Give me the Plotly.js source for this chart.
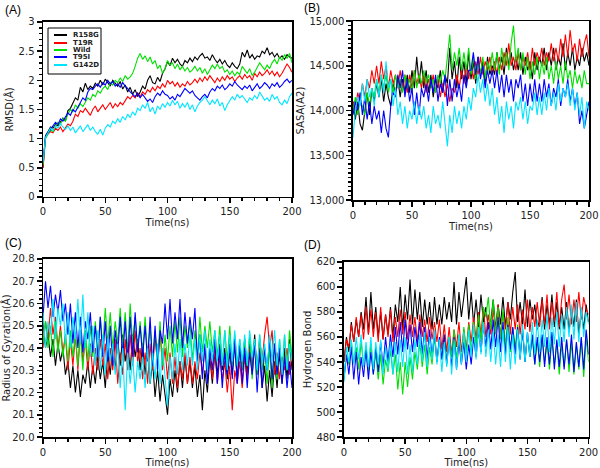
<!DOCTYPE html>
<html><head><meta charset="utf-8">
<script src="https://cdn.plot.ly/plotly-3.0.1.min.js"></script>
<style>html,body{margin:0;padding:0;background:#fff}#plot{width:600px;height:468px}</style>
</head><body><div id="plot"></div>
<script>
const time = [0,2,4,6,8,10,12,14,16,18,20,22,24,26,28,30,32,34,36,38,40,42,44,46,48,50,52,54,56,58,60,62,64,66,68,70,72,74,76,78,80,82,84,86,88,90,92,94,96,98,100,102,104,106,108,110,112,114,116,118,120,122,124,126,128,130,132,134,136,138,140,142,144,146,148,150,152,154,156,158,160,162,164,166,168,170,172,174,176,178,180,182,184,186,188,190,192,194,196,198,200];
const seriesNames = ["R158G","T19R","Wild","T95I","G142D"];
const seriesColors = ["#000000","#ff0000","#00e000","#0000ff","#00e5ff"];

// Panel A: RMSD (Å)
const rmsdR158G = [0.50,1.05,1.12,1.20,1.18,1.24,1.22,1.28,1.35,1.30,
1.48,1.52,1.62,1.70,1.66,1.88,1.80,1.95,1.84,1.90,
1.86,1.95,1.90,2.00,1.92,2.02,1.96,1.90,2.00,1.94,
1.90,1.98,1.85,1.92,1.80,1.88,1.76,1.84,1.72,1.80,
1.90,1.85,2.00,2.08,1.96,1.94,2.05,1.98,2.12,2.20,
2.32,2.25,2.38,2.30,2.36,2.28,2.24,2.34,2.30,2.38,
2.32,2.40,2.35,2.42,2.46,2.38,2.40,2.34,2.44,2.36,
2.30,2.36,2.28,2.34,2.26,2.22,2.30,2.24,2.20,2.28,
2.48,2.40,2.52,2.38,2.44,2.36,2.42,2.40,2.50,2.46,
2.56,2.44,2.48,2.40,2.46,2.38,2.42,2.36,2.44,2.40,2.38];
const rmsdT19R = [0.50,1.02,1.08,1.12,1.10,1.18,1.14,1.20,1.12,1.18,
1.25,1.22,1.30,1.42,1.38,1.48,1.45,1.52,1.46,1.40,
1.50,1.56,1.46,1.52,1.58,1.50,1.56,1.62,1.52,1.60,
1.55,1.62,1.58,1.66,1.72,1.68,1.74,1.70,1.78,1.72,
1.80,1.76,1.84,1.80,1.88,1.82,1.90,1.86,1.94,1.88,
2.00,1.94,1.98,1.90,1.96,1.88,1.94,1.90,1.98,1.92,
1.96,2.02,1.96,2.04,1.98,2.06,2.00,2.08,2.02,1.96,
2.04,1.98,2.06,2.00,2.08,2.02,2.06,1.98,2.04,2.08,
2.02,2.10,2.04,2.08,2.00,2.12,2.06,2.14,2.08,2.12,
2.18,2.10,2.16,2.08,2.14,2.06,2.12,2.20,2.28,2.22,2.14];
const rmsdWild = [0.55,1.00,1.08,1.15,1.12,1.22,1.28,1.24,1.35,1.30,
1.42,1.50,1.46,1.58,1.52,1.60,1.55,1.64,1.70,1.66,
1.76,1.72,1.82,1.78,1.86,1.90,1.84,1.96,1.92,2.00,
1.96,2.04,1.98,2.08,2.02,2.06,2.12,2.24,2.38,2.46,
2.36,2.42,2.32,2.40,2.28,2.34,2.20,2.26,2.12,2.20,
2.34,2.26,2.30,2.20,2.28,2.18,2.24,2.16,2.22,2.14,
2.18,2.24,2.16,2.22,2.12,2.20,2.10,2.18,2.26,2.20,
2.28,2.20,2.24,2.14,2.18,2.10,2.16,2.08,2.14,2.10,
2.24,2.18,2.12,2.20,2.08,2.14,2.22,2.30,2.24,2.18,
2.26,2.20,2.30,2.36,2.28,2.40,2.34,2.44,2.38,2.46,2.30];
const rmsdT95I = [0.60,1.04,1.10,1.16,1.22,1.28,1.24,1.34,1.30,1.38,
1.44,1.40,1.50,1.46,1.54,1.62,1.70,1.66,1.80,1.86,
1.84,1.90,1.94,1.88,1.96,1.92,2.00,1.94,1.98,1.90,
1.94,1.88,1.96,1.90,1.86,1.80,1.76,1.72,1.78,1.70,
1.76,1.70,1.64,1.68,1.62,1.72,1.78,1.74,1.82,1.76,
1.74,1.68,1.72,1.66,1.76,1.72,1.80,1.86,1.82,1.78,
1.82,1.74,1.70,1.66,1.72,1.76,1.70,1.80,1.86,1.82,
1.90,1.86,1.92,1.84,1.88,1.94,1.90,1.98,1.92,1.88,
1.84,1.90,1.86,1.92,1.82,1.88,1.94,1.86,1.90,1.96,
1.92,1.86,1.94,1.90,1.96,1.88,1.92,1.98,2.02,1.96,2.00];
const rmsdG142D = [0.60,1.02,1.10,1.18,1.14,1.22,1.18,1.26,1.20,1.16,
1.22,1.14,1.20,1.10,1.16,1.22,1.12,1.18,1.24,1.14,
1.20,1.12,1.08,1.16,1.06,1.18,1.24,1.20,1.30,1.26,
1.34,1.28,1.38,1.32,1.42,1.36,1.46,1.40,1.52,1.48,
1.58,1.52,1.62,1.46,1.54,1.42,1.56,1.50,1.60,1.54,
1.62,1.56,1.66,1.58,1.64,1.52,1.60,1.54,1.62,1.50,
1.58,1.46,1.56,1.62,1.66,1.72,1.64,1.58,1.66,1.60,
1.68,1.56,1.62,1.48,1.58,1.64,1.72,1.66,1.76,1.70,
1.74,1.68,1.62,1.70,1.66,1.74,1.68,1.80,1.72,1.66,
1.70,1.64,1.76,1.68,1.72,1.62,1.58,1.66,1.60,1.72,1.78];

// Panel B: SASA (A2)
const sasaR158G = [14100,13900,14100,13850,13780,14000,14200,13950,14250,14100,
14300,14150,14350,14100,14300,14150,14050,14300,14200,14350,
14150,14350,14200,14400,14200,14450,14250,14600,14300,14550,
14250,14450,14200,14400,14150,14350,14250,14450,14200,14400,
14300,14700,14350,14550,14250,14600,14350,14550,14300,14650,
14350,14550,14300,14600,14400,14550,14300,14600,14400,14500,
14400,14650,14450,14600,14400,14700,14500,14650,14450,14600,
14450,14650,14400,14600,14450,14550,14350,14650,14450,14600,
14500,14700,14450,14650,14500,14700,14450,14600,14500,14750,
14450,14650,14500,14700,14450,14600,14500,14700,14550,14650,14500];
const sasaT19R = [14100,14000,14200,14100,14300,14150,14350,14250,14450,14300,
14500,14300,14550,14350,14500,14250,14450,14300,14400,14250,
14450,14250,14400,14200,14400,14250,14450,14300,14400,14250,
14400,14200,14350,14250,14400,14200,14350,14150,14300,14150,
14300,14100,14250,14200,14400,14250,14450,14300,14500,14350,
14500,14350,14550,14400,14600,14400,14550,14450,14600,14400,
14550,14400,14600,14450,14650,14500,14750,14500,14600,14450,
14650,14450,14600,14500,14650,14450,14700,14500,14650,14550,
14700,14500,14650,14550,14750,14550,14700,14550,14800,14600,
14850,14600,14900,14650,14750,14550,14800,14600,14750,14850,14600];
const sasaWild = [14000,14150,13950,14100,14050,13950,14200,14050,14250,14150,
14350,14200,14400,14250,14400,14200,14350,14200,14400,14250,
14350,14200,14400,14250,14350,14200,14450,14250,14400,14300,
14450,14300,14400,14250,14350,14200,14400,14300,14450,14350,
14600,14850,14450,14650,14500,14700,14450,14650,14450,14700,
14400,14600,14350,14550,14400,14600,14350,14550,14450,14650,
14450,14650,14400,14700,14500,14650,14450,14750,14950,14550,
14700,14450,14650,14400,14600,14350,14550,14400,14600,14350,
14550,14400,14600,14350,14500,14300,14550,14350,14500,14300,
14550,14350,14450,14250,14450,14300,14400,14250,14450,14300,14300];
const sasaT95I = [13950,14100,14000,14200,13950,14150,13900,14100,13850,14050,
13900,14000,13750,14000,13800,13700,14050,14200,14150,14400,
14250,14450,14150,14350,14100,14250,13950,14200,13950,14250,
14150,14300,14100,14350,14200,14400,14100,14300,14200,14400,
14050,14350,14100,14350,14150,14300,14100,14400,14250,14450,
14450,14650,14400,14600,14350,14500,14250,14450,14300,14450,
14250,14450,14200,14400,14150,14400,14200,14350,14100,14350,
14250,14400,14100,14300,14050,14300,14100,14350,14100,14300,
14100,14350,14150,14300,14050,14250,14150,14350,14050,14250,
14150,14350,14100,14250,14050,14200,13850,14000,13800,13950,14100];
const sasaG142D = [13700,14000,14150,14050,14300,14100,14350,14150,14250,14050,
14350,14150,14400,14200,14550,14250,14350,14050,14250,13950,
14100,13850,14050,13800,14000,13900,14100,13850,14050,13900,
14050,13800,13950,13750,14050,13850,13950,13800,14100,13850,
13600,13950,13750,14050,13850,14000,13800,14050,13900,14150,
14000,14250,14150,14400,14200,14350,14100,14300,14050,14250,
13950,14150,13850,14050,13750,14100,13900,14050,13800,14100,
14000,14150,13900,14100,13850,14050,14000,14200,13950,14150,
13950,14200,14000,14250,14050,14200,14000,14300,14100,14250,
14150,14300,14050,14250,14000,14200,13950,14150,13800,14100,14000];

// Panel C: Radius of gyration (Å)
const rgR158G = [20.52,20.40,20.46,20.36,20.44,20.32,20.42,20.34,20.40,20.28,
20.34,20.22,20.32,20.20,20.30,20.18,20.28,20.24,20.34,20.22,
20.32,20.24,20.36,20.26,20.34,20.22,20.38,20.28,20.42,20.30,
20.44,20.32,20.46,20.34,20.42,20.30,20.46,20.36,20.44,20.30,
20.42,20.28,20.40,20.24,20.34,20.18,20.30,20.16,20.28,20.20,
20.10,20.26,20.18,20.30,20.20,20.34,20.22,20.36,20.24,20.34,
20.22,20.32,20.18,20.28,20.12,20.30,20.20,20.36,20.24,20.38,
20.28,20.42,20.30,20.40,20.26,20.38,20.28,20.42,20.26,20.40,
20.30,20.44,20.28,20.42,20.30,20.46,20.28,20.40,20.22,20.32,
20.16,20.30,20.18,20.34,20.22,20.38,20.24,20.40,20.26,20.44,20.30];
const rgT19R = [20.40,20.52,20.44,20.58,20.46,20.54,20.40,20.50,20.38,20.46,
20.30,20.44,20.32,20.46,20.30,20.48,20.34,20.44,20.30,20.42,
20.28,20.40,20.30,20.44,20.32,20.42,20.26,20.40,20.30,20.44,
20.24,20.38,20.28,20.44,20.30,20.46,20.32,20.48,20.34,20.40,
20.26,20.38,20.24,20.42,20.30,20.46,20.32,20.48,20.30,20.40,
20.26,20.38,20.24,20.36,20.22,20.34,20.26,20.38,20.24,20.36,
20.24,20.34,20.26,20.38,20.28,20.40,20.30,20.38,20.26,20.40,
20.24,20.36,20.26,20.34,20.20,20.32,20.12,20.30,20.24,20.34,
20.22,20.36,20.26,20.40,20.28,20.42,20.30,20.44,20.34,20.46,
20.54,20.40,20.48,20.28,20.38,20.26,20.36,20.30,20.40,20.28,20.38];
const rgWild = [20.42,20.52,20.40,20.50,20.36,20.52,20.38,20.48,20.36,20.46,
20.34,20.48,20.36,20.46,20.32,20.46,20.30,20.48,20.34,20.50,
20.36,20.52,20.38,20.54,20.40,20.58,20.42,20.56,20.40,20.52,
20.42,20.58,20.40,20.56,20.38,20.60,20.42,20.54,20.40,20.52,
20.38,20.54,20.36,20.50,20.32,20.48,20.34,20.52,20.32,20.46,
20.34,20.50,20.36,20.52,20.38,20.54,20.36,20.50,20.40,20.52,
20.34,20.48,20.36,20.54,20.38,20.50,20.40,20.52,20.38,20.48,
20.36,20.50,20.32,20.48,20.34,20.50,20.32,20.46,20.32,20.44,
20.30,20.44,20.32,20.46,20.26,20.44,20.28,20.46,20.30,20.40,
20.24,20.40,20.22,20.42,20.26,20.44,20.28,20.46,20.30,20.48,20.36];
const rgT95I = [20.54,20.70,20.58,20.68,20.54,20.64,20.56,20.66,20.52,20.60,
20.46,20.60,20.42,20.56,20.40,20.54,20.38,20.52,20.44,20.56,
20.38,20.50,20.36,20.54,20.36,20.52,20.34,20.50,20.32,20.48,
20.38,20.54,20.36,20.52,20.34,20.54,20.36,20.56,20.38,20.50,
20.36,20.50,20.34,20.54,20.32,20.50,20.30,20.48,20.42,20.60,
20.44,20.62,20.42,20.56,20.44,20.62,20.40,20.56,20.42,20.54,
20.44,20.58,20.34,20.46,20.26,20.42,20.24,20.40,20.30,20.44,
20.24,20.40,20.22,20.38,20.28,20.42,20.26,20.44,20.24,20.42,
20.24,20.40,20.22,20.38,20.28,20.42,20.20,20.38,20.22,20.40,
20.30,20.44,20.26,20.42,20.28,20.40,20.24,20.36,20.22,20.34,20.22];
const rgG142D = [20.56,20.40,20.52,20.46,20.62,20.44,20.58,20.50,20.60,20.42,
20.56,20.40,20.54,20.44,20.62,20.42,20.64,20.40,20.56,20.36,
20.50,20.32,20.48,20.30,20.46,20.28,20.44,20.34,20.42,20.28,
20.42,20.22,20.40,20.12,20.38,20.24,20.36,20.20,20.34,20.26,
20.36,20.22,20.40,20.24,20.38,20.26,20.42,20.24,20.40,20.28,
20.14,20.36,20.26,20.42,20.28,20.44,20.30,20.42,20.32,20.46,
20.32,20.44,20.30,20.46,20.34,20.48,20.30,20.44,20.34,20.48,
20.34,20.46,20.32,20.48,20.30,20.46,20.34,20.48,20.32,20.44,
20.34,20.46,20.32,20.48,20.36,20.44,20.30,20.46,20.34,20.42,
20.30,20.46,20.34,20.48,20.32,20.44,20.28,20.46,20.30,20.42,20.34];

// Panel D: Hydrogen bonds
const hbR158G = [540,560,548,572,556,574,560,580,566,592,
562,596,566,584,560,580,558,578,562,584,
560,586,572,600,566,594,574,606,570,598,
574,596,568,590,570,588,566,592,570,586,
570,592,574,588,572,604,570,596,576,592,
608,574,596,570,590,568,594,572,584,566,
572,590,566,586,570,592,568,588,574,596,
612,572,588,570,598,568,590,574,586,566,
574,592,566,586,570,594,568,588,566,584,
566,588,564,584,568,590,562,582,566,586,572];
const hbT19R = [540,558,552,570,556,576,560,578,558,584,
562,582,560,580,556,584,558,578,560,582,
556,576,560,582,562,580,558,578,560,576,
556,578,560,574,556,576,558,572,556,574,
550,570,548,568,546,566,552,572,548,566,
550,572,556,576,558,580,562,584,560,578,
562,582,564,586,560,580,566,588,562,584,
566,586,562,582,566,590,564,584,568,588,
568,590,570,594,566,588,572,596,568,590,
602,574,594,570,590,572,596,574,592,582,578];
const hbWild = [528,546,538,556,540,552,534,556,538,552,
532,554,530,548,526,546,522,542,532,550,
530,546,518,540,514,540,520,544,526,548,
534,556,536,554,530,552,538,560,540,558,
542,562,540,560,544,566,542,562,540,568,
546,570,548,572,552,578,556,584,576,592,
566,590,562,584,558,582,552,576,548,568,
552,570,544,566,540,562,544,560,538,558,
536,560,540,556,534,558,538,556,530,554,
536,558,532,556,530,554,534,558,528,560,540];
const hbT95I = [526,546,530,552,526,548,522,544,528,550,
526,548,530,552,532,556,536,560,540,562,
544,568,546,572,548,574,550,570,548,568,
552,572,546,568,542,566,544,564,540,560,
542,562,538,558,536,560,534,556,538,556,
534,554,538,560,544,566,548,570,552,572,
550,574,552,576,548,572,546,570,550,568,
546,568,542,566,540,564,544,562,538,560,
540,562,536,560,538,564,534,558,536,560,
534,558,538,562,532,556,536,560,534,566,546];
const hbG142D = [524,552,540,558,538,560,542,562,536,556,
536,560,534,556,538,558,530,552,534,556,
530,556,532,558,536,560,530,554,532,558,
538,562,540,564,536,560,542,566,538,558,
532,556,536,560,530,558,534,562,538,564,
540,566,544,570,542,568,546,572,544,566,
540,564,538,562,536,566,540,568,534,562,
538,566,542,570,540,564,544,572,546,574,
548,574,552,578,548,576,554,580,552,578,
556,584,560,586,558,588,556,584,560,580,570];

const panels = [
  {ax:"",  data:[rmsdR158G,rmsdT19R,rmsdWild,rmsdT95I,rmsdG142D]},
  {ax:"2", data:[sasaR158G,sasaT19R,sasaWild,sasaT95I,sasaG142D]},
  {ax:"3", data:[rgR158G,rgT19R,rgWild,rgT95I,rgG142D]},
  {ax:"4", data:[hbR158G,hbT19R,hbWild,hbT95I,hbG142D]}
];
const traces = [];
panels.forEach(p => {
  p.data.forEach((ys, i) => {
    traces.push({
      x: time, y: ys, type: "scatter", mode: "lines",
      name: seriesNames[i], showlegend: false,
      line: {color: seriesColors[i], width: 1.1},
      xaxis: "x" + p.ax, yaxis: "y" + p.ax
    });
  });
});

const F = "DejaVu Sans, Verdana, sans-serif";
function xAx(dom, anchor) {
  return {domain: dom, anchor: anchor, range: [0, 200], dtick: 50, tick0: 0,
    ticks: "outside", ticklen: 5, tickwidth: 1.5, tickcolor: "#000",
    minor: {dtick: 10, ticks: "outside", ticklen: 3, tickcolor: "#000", tickwidth: 1.5},
    showline: true, linecolor: "#000", linewidth: 1.5, mirror: true,
    showgrid: false, zeroline: false, ticklabeloverflow: "allow",
    tickfont: {family: F, size: 10, color: "#222"},
    title: {text: "Time(ns)", font: {family: F, size: 10, color: "#222"}, standoff: 2}};
}
function yAx(dom, anchor, range, dtick, minor, title, fmt) {
  return {domain: dom, anchor: anchor, range: range, dtick: dtick, tick0: range[0],
    ticks: "outside", ticklen: 5, tickwidth: 1.5, tickcolor: "#000",
    minor: {dtick: minor, ticks: "outside", ticklen: 3, tickcolor: "#000", tickwidth: 1.5},
    showline: true, linecolor: "#000", linewidth: 1.5, mirror: true,
    showgrid: false, zeroline: false, tickformat: fmt, ticklabeloverflow: "allow",
    tickfont: {family: F, size: 10, color: "#222"},
    title: {text: title, font: {family: F, size: 10, color: "#222"}, standoff: 3}};
}

// Hand-built compact legend for panel A (paper coordinates from pixels)
const W = 600, H = 468;
const px = v => v / W, py = v => 1 - v / H;
const shapes = [{type: "rect", xref: "paper", yref: "paper",
  x0: px(48), x1: px(101), y0: py(74), y1: py(28),
  line: {color: "#000", width: 1}, fillcolor: "#fff", layer: "above"}];
const annotations = [];
const rowY = [35, 43, 50, 57, 65];
seriesNames.forEach((nm, i) => {
  shapes.push({type: "line", xref: "paper", yref: "paper",
    x0: px(54), x1: px(67), y0: py(rowY[i]), y1: py(rowY[i]),
    line: {color: seriesColors[i], width: 2}, layer: "above"});
  annotations.push({text: "<b>" + nm + "</b>", xref: "paper", yref: "paper",
    x: px(71), y: py(rowY[i]), xanchor: "left", yanchor: "middle", showarrow: false,
    font: {family: F, size: 7, color: "#222"}});
});
const labelFont = {family: "Liberation Sans, Arial", size: 12, color: "#000"};
[["(A)", 3, 10], ["(B)", 302, 8], ["(C)", 3, 243], ["(D)", 302, 245]].forEach(l => {
  annotations.push({text: l[0], xref: "paper", yref: "paper", x: px(l[1]), y: py(l[2]),
    xanchor: "left", yanchor: "middle", showarrow: false, font: labelFont});
});

const layout = {
  width: W, height: H, margin: {l: 0, r: 0, t: 0, b: 0},
  paper_bgcolor: "#fff", plot_bgcolor: "#fff", showlegend: false,
  xaxis:  xAx([0.0717, 0.4867], "y"),
  yaxis:  yAx([0.5791, 0.9530], "x", [0, 3], 0.5, 0.1, "RMSD(Å)", ""),
  xaxis2: xAx([0.5883, 0.9817], "y2"),
  yaxis2: yAx([0.5726, 0.9551], "x2", [13000, 15000], 500, 50, "SASA(A2)", ","),
  xaxis3: xAx([0.0717, 0.4867], "y3"),
  yaxis3: yAx([0.0662, 0.4466], "x3", [20, 20.8], 0.1, 0.02, "Radius of Gyration(Å)", ".1f"),
  xaxis4: xAx([0.5733, 0.9810], "y4"),
  yaxis4: yAx([0.0662, 0.4402], "x4", [480, 620], 20, 5, "Hydrogen Bond", ""),
  shapes: shapes,
  annotations: annotations
};
Plotly.newPlot("plot", traces, layout, {displayModeBar: false, staticPlot: true});
</script></body></html>
